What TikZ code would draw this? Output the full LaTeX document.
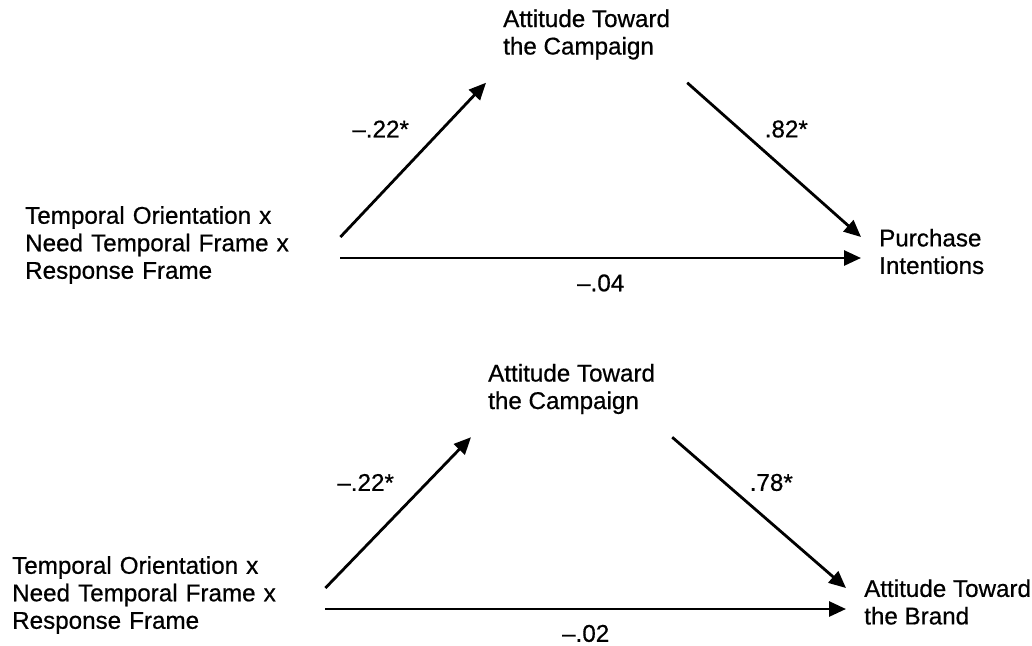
\documentclass[tikz,border=0pt]{standalone}
\usepackage{fontspec}
\setmainfont{Liberation Sans}[BoldFont=Liberation Sans, BoldFeatures={FakeBold=0.6}]
\usetikzlibrary{arrows.meta}

\begin{document}
\begin{tikzpicture}[x=1pt,y=-1pt]
\tikzstyle{var} = [inner sep=0pt, align=left,
font=\fontsize{24.2}{27.5}\selectfont\bfseries]
\tikzstyle{pred} = [var, text width=315pt, anchor=west]
\tikzstyle{med} = [var, inner xsep=17pt, inner ysep=23pt, anchor=west]
\tikzstyle{outc} = [var, inner xsep=18pt, anchor=west]
\tikzstyle{line} = [draw, line width=2.8pt, -{Triangle[length=17pt,width=15pt]}]
\tikzstyle{coef} = [inner sep=0pt, font=\fontsize{24.2}{27.5}\selectfont\bfseries]

\useasboundingbox (0,0) rectangle (1032,645);

% upper model: purchase intentions
\node [pred] (x1) at (25,245) {Temporal Orientation x\\Need Temporal Frame x\\Response Frame};
\node [med] (m1) at (486,34.5) {Attitude Toward\\the Campaign};
\node [outc] (y1) at (861,251.5) {Purchase\\Intentions};

\draw [line] ([yshift=8pt]x1.east) -- (m1.south west)
  node [coef, pos=.7, left=32pt] {\textendash.22*};
\draw [line] (m1.south east) -- ([yshift=14.5pt]y1.west)
  node [coef, pos=.3, right=24pt] {.82*};
\draw [line] ([yshift=-13pt]x1.east) -- ([yshift=-13pt]x1.east -| y1.west)
  node [coef, midway, below=15pt] {\textendash.04};

% lower model: attitude toward the brand
\node [pred, text width=313pt] (x2) at (12,595) {Temporal Orientation x\\Need Temporal Frame x\\Response Frame};
\node [med] (m2) at (471,389) {Attitude Toward\\the Campaign};
\node [outc] (y2) at (846,602) {Attitude Toward\\the Brand};

\draw [line] ([yshift=7pt]x2.east) -- (m2.south west)
  node [coef, pos=.7, left=32pt] {\textendash.22*};
\draw [line] (m2.south east) -- ([yshift=14pt]y2.west)
  node [coef, pos=.3, right=24pt] {.78*};
\draw [line] ([yshift=-14pt]x2.east) -- ([yshift=-14pt]x2.east -| y2.west)
  node [coef, midway, below=14.5pt] {\textendash.02};

\end{tikzpicture}
\end{document}
